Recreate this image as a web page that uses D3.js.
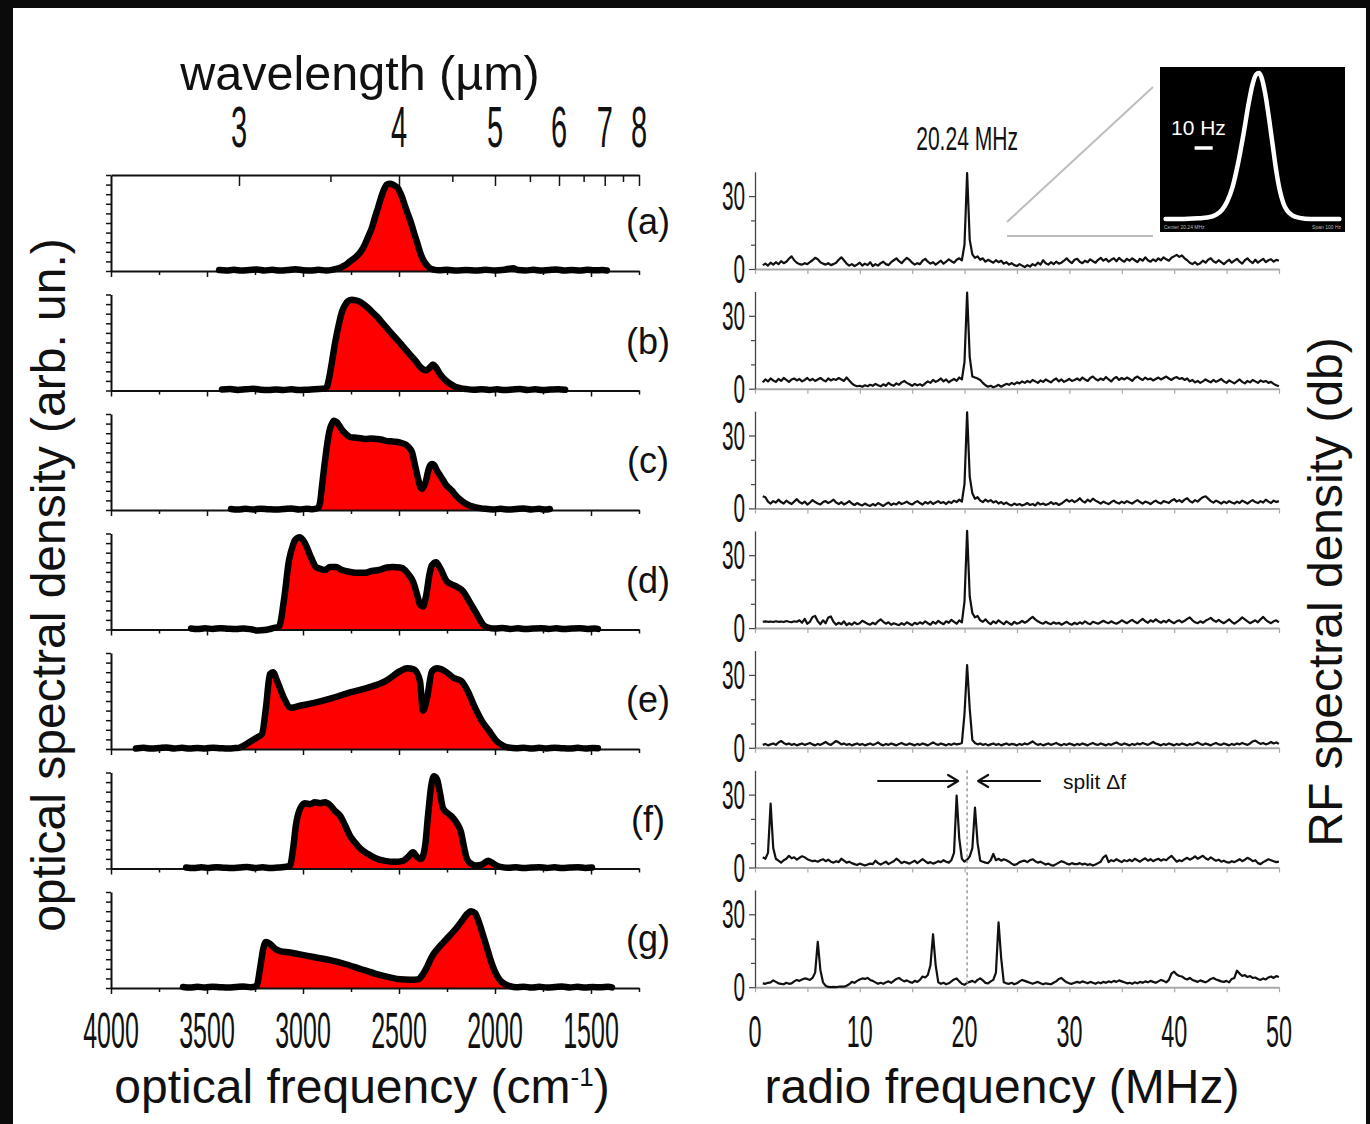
<!DOCTYPE html>
<html>
<head>
<meta charset="utf-8">
<script src="https://cdnjs.cloudflare.com/ajax/libs/d3/7.8.5/d3.min.js"></script>
<style>
  html, body { margin: 0; padding: 0; background: #fff; }
  svg { display: block; }
</style>
</head>
<body>
<svg id="chart" width="1370" height="1124"></svg>
<script>
// ---------------- data ----------------
// Optical spectra: [wavenumber (cm^-1), normalised spectral density]
const optA = [[3437,0.01],[3400,0.005],[3360,0.012],[3320,0.004],[3280,0.01],[3240,0.016],[3200,0.006],[3160,0.012],[3120,0.004],[3080,0.01],[3040,0.018],[3000,0.008],[2960,0.004],[2920,0.012],[2880,0.006],[2850,0.012],
  [2833,0.02],[2800,0.04],[2781,0.06],[2755,0.1],[2729,0.14],[2700,0.2],[2677,0.28],[2660,0.36],[2641,0.45],[2625,0.56],[2609,0.66],[2594,0.76],[2578,0.85],[2563,0.9],[2547,0.91],[2531,0.9],[2516,0.88],[2505,0.86],[2495,0.82],[2484,0.77],[2469,0.68],[2453,0.59],[2437,0.5],[2422,0.4],[2406,0.3],[2391,0.2],[2375,0.12],[2359,0.07],[2340,0.03],[2320,0.015],
  [2290,0.008],[2250,0.012],[2200,0.005],[2150,0.01],[2100,0.004],[2050,0.012],[2000,0.006],[1950,0.014],[1906,0.028],[1880,0.01],[1840,0.006],[1800,0.012],[1760,0.004],[1720,0.01],[1680,0.016],[1640,0.006],[1600,0.01],[1560,0.004],[1520,0.012],[1480,0.008],[1440,0.01],[1417,0.006]];

const optB = [[3422,0.01],[3380,0.015],[3340,0.006],[3300,0.012],[3260,0.018],[3220,0.008],[3180,0.004],[3140,0.01],[3100,0.006],[3060,0.012],[3020,0.004],[2980,0.008],[2940,0.014],[2900,0.018],[2885,0.02],
  [2875,0.04],[2862,0.15],[2849,0.3],[2836,0.46],[2823,0.6],[2810,0.72],[2797,0.82],[2781,0.89],[2766,0.93],[2745,0.945],[2729,0.94],[2710,0.93],[2693,0.91],[2667,0.87],[2641,0.82],[2615,0.77],[2589,0.71],[2563,0.65],[2537,0.59],[2510,0.53],[2484,0.47],[2458,0.41],[2432,0.35],[2406,0.29],[2391,0.25],[2375,0.22],[2359,0.21],[2339,0.24],[2323,0.27],[2307,0.24],[2286,0.17],[2260,0.11],[2234,0.07],[2208,0.04],[2182,0.025],[2150,0.015],
  [2110,0.008],[2070,0.014],[2030,0.006],[1990,0.012],[1950,0.004],[1910,0.01],[1870,0.016],[1830,0.006],[1790,0.012],[1750,0.004],[1710,0.01],[1670,0.014],[1635,0.008]];

const optC = [[3375,0.01],[3340,0.004],[3300,0.012],[3260,0.006],[3220,0.014],[3180,0.008],[3140,0.004],[3100,0.01],[3060,0.016],[3020,0.006],[2980,0.012],[2950,0.008],[2922,0.02],
  [2911,0.08],[2901,0.25],[2890,0.44],[2880,0.6],[2870,0.74],[2859,0.85],[2849,0.9],[2839,0.93],[2828,0.92],[2818,0.9],[2802,0.85],[2786,0.81],[2770,0.78],[2755,0.76],[2734,0.755],[2714,0.75],[2693,0.745],[2672,0.74],[2646,0.745],[2620,0.74],[2594,0.735],[2568,0.72],[2542,0.715],[2516,0.71],[2490,0.7],[2464,0.68],[2443,0.64],[2432,0.6],[2417,0.47],[2401,0.33],[2391,0.25],[2380,0.22],[2370,0.25],[2359,0.31],[2349,0.4],[2339,0.46],[2328,0.48],[2318,0.47],[2302,0.41],[2286,0.36],[2270,0.31],[2255,0.26],[2239,0.23],[2224,0.2],[2203,0.15],[2182,0.11],[2156,0.07],[2130,0.045],[2104,0.03],[2078,0.02],[2050,0.012],
  [2010,0.006],[1970,0.012],[1930,0.004],[1890,0.01],[1850,0.016],[1810,0.006],[1770,0.012],[1740,0.004],[1714,0.01]];

const optD = [[3583,0.01],[3550,0.004],[3510,0.012],[3470,0.006],[3430,0.014],[3390,0.008],[3350,0.004],[3310,0.01],[3270,0.002],[3234,-0.01],[3200,-0.006],[3175,0.004],[3156,0.015],
  [3125,0.03],[3099,0.31],[3073,0.72],[3052,0.88],[3042,0.93],[3016,0.96],[2990,0.9],[2958,0.75],[2932,0.65],[2906,0.63],[2885,0.62],[2859,0.65],[2828,0.65],[2797,0.62],[2755,0.6],[2714,0.59],[2682,0.59],[2641,0.61],[2604,0.62],[2563,0.645],[2531,0.65],[2495,0.645],[2469,0.62],[2453,0.58],[2427,0.5],[2401,0.33],[2391,0.26],[2375,0.24],[2359,0.35],[2339,0.6],[2328,0.67],[2307,0.7],[2286,0.64],[2250,0.5],[2203,0.45],[2167,0.4],[2130,0.28],[2089,0.14],[2062,0.05],[2036,0.02],
  [2000,0.01],[1960,0.016],[1920,0.006],[1880,0.012],[1840,0.004],[1800,0.01],[1760,0.014],[1720,0.006],[1680,0.012],[1640,0.004],[1600,0.01],[1560,0.014],[1520,0.006],[1480,0.01],[1464,0.006]];

const optE = [[3870,0.005],[3830,0.012],[3790,0.004],[3750,0.01],[3710,0.016],[3670,0.006],[3630,0.012],[3590,0.004],[3550,0.01],[3510,0.006],[3470,0.014],[3430,0.008],[3390,0.004],[3350,0.01],[3330,0.015],
  [3313,0.03],[3280,0.07],[3240,0.12],[3214,0.155],[3193,0.43],[3172,0.78],[3156,0.8],[3135,0.71],[3099,0.53],[3063,0.43],[3016,0.45],[2943,0.48],[2849,0.53],[2755,0.59],[2661,0.64],[2568,0.71],[2495,0.81],[2458,0.84],[2422,0.83],[2391,0.71],[2375,0.4],[2354,0.53],[2328,0.81],[2302,0.84],[2260,0.81],[2214,0.74],[2177,0.71],[2141,0.6],[2104,0.43],[2068,0.29],[2031,0.19],[1995,0.09],[1953,0.03],[1930,0.015],
  [1890,0.008],[1850,0.014],[1810,0.004],[1770,0.012],[1730,0.006],[1690,0.014],[1650,0.008],[1610,0.004],[1570,0.012],[1530,0.006],[1490,0.01],[1464,0.008]];

const optF = [[3609,0.01],[3570,0.004],[3530,0.012],[3490,0.006],[3450,0.014],[3410,0.008],[3370,0.004],[3330,0.01],[3290,0.016],[3250,0.006],[3210,0.012],[3170,0.004],[3130,0.01],[3100,0.015],
  [3068,0.03],[3052,0.2],[3037,0.45],[3016,0.62],[2990,0.68],[2964,0.67],[2938,0.69],[2911,0.68],[2885,0.69],[2859,0.66],[2833,0.6],[2807,0.55],[2781,0.45],[2755,0.34],[2729,0.27],[2703,0.21],[2661,0.15],[2625,0.11],[2573,0.08],[2521,0.07],[2479,0.08],[2453,0.12],[2427,0.17],[2406,0.12],[2385,0.1],[2365,0.22],[2349,0.55],[2333,0.85],[2318,0.96],[2302,0.93],[2286,0.78],[2271,0.63],[2250,0.58],[2224,0.54],[2198,0.47],[2177,0.38],[2161,0.22],[2146,0.1],[2125,0.05],[2099,0.03],[2068,0.04],[2036,0.08],[2016,0.06],[1990,0.03],[1964,0.015],
  [1930,0.008],[1890,0.012],[1850,0.004],[1810,0.01],[1770,0.014],[1730,0.006],[1690,0.012],[1650,0.004],[1610,0.01],[1570,0.014],[1530,0.006],[1495,0.01]];

const optG = [[3625,0.01],[3590,0.004],[3550,0.012],[3510,0.006],[3470,0.014],[3430,0.008],[3390,0.004],[3350,0.01],[3310,0.016],[3270,0.008],[3250,0.015],
  [3240,0.03],[3224,0.2],[3208,0.4],[3193,0.48],[3172,0.46],[3146,0.41],[3120,0.385],[3068,0.37],[3016,0.35],[2938,0.32],[2859,0.29],[2781,0.25],[2703,0.2],[2625,0.15],[2547,0.11],[2495,0.09],[2443,0.085],[2401,0.09],[2380,0.13],[2354,0.22],[2328,0.33],[2302,0.4],[2271,0.47],[2234,0.55],[2203,0.62],[2172,0.7],[2146,0.77],[2125,0.8],[2104,0.78],[2083,0.68],[2062,0.55],[2042,0.42],[2021,0.28],[2000,0.17],[1974,0.08],[1948,0.04],[1922,0.02],
  [1890,0.008],[1850,0.014],[1810,0.004],[1770,0.012],[1730,0.006],[1690,0.01],[1650,0.016],[1610,0.006],[1570,0.012],[1530,0.004],[1490,0.01],[1450,0.008],[1410,0.012],[1391,0.006]];

const panelLabels = ['(a)', '(b)', '(c)', '(d)', '(e)', '(f)', '(g)'];

// RF spectra (dB), analyser sweep starting at RF_START MHz in RF_STEP MHz bins
const RF_START = 0.74;
const RF_STEP = 0.25;
const rfA = [1.6,2.2,1.4,2.6,1.8,2.8,2.0,3.2,2.4,3.0,4.2,5.2,3.6,2.6,2.0,1.8,2.4,2.0,2.8,3.6,
  4.6,4.0,2.8,2.2,1.8,2.4,1.6,2.0,2.6,3.8,4.8,3.6,2.2,1.4,2.0,1.2,1.8,2.6,1.4,2.2,
  1.6,2.8,1.2,2.0,1.4,2.4,3.0,2.0,1.6,2.8,3.6,4.4,3.2,2.4,3.6,4.6,3.8,2.6,1.8,2.4,
  2.0,3.4,4.2,3.0,2.2,2.8,1.8,2.6,3.4,2.2,3.0,4.0,3.2,2.6,3.8,4.4,3.6,10,39.5,12,
  6.0,4.6,5.2,3.8,4.4,3.0,3.8,3.2,2.6,3.6,2.8,3.4,2.2,2.8,1.8,2.4,1.6,1.2,2.0,1.4,
  0.8,1.6,1.0,2.0,1.4,2.6,1.8,3.6,2.4,1.8,2.8,2.0,3.0,2.2,2.6,3.4,4.4,3.2,2.4,3.8,
  4.2,3.0,2.4,3.4,2.8,4.0,3.2,2.6,3.8,4.6,3.4,4.2,3.0,3.8,4.4,3.2,4.6,3.6,3.0,4.2,
  3.4,4.4,3.6,2.8,4.2,3.4,4.8,3.6,3.0,4.0,3.2,4.4,3.6,4.8,4.0,3.4,4.6,5.2,5.8,5.0,
  5.6,4.4,3.6,2.6,2.0,2.8,1.8,2.4,3.4,2.6,3.8,4.4,3.2,2.6,3.6,2.8,2.0,3.0,3.8,2.6,
  3.4,4.2,3.0,2.2,3.6,4.4,3.2,2.4,3.8,2.6,3.4,4.2,2.8,3.6,4.0,3.0,3.8,3.4];
const rfB = [2.6,3.8,3.0,4.2,3.4,2.8,4.0,3.2,4.4,3.6,2.8,3.8,4.2,3.4,4.0,3.0,3.6,4.4,3.4,4.0,
  3.2,3.8,4.4,3.6,3.0,4.2,3.4,4.0,3.6,4.4,3.8,3.2,4.6,3.4,2.2,1.4,1.0,1.2,0.8,1.4,
  1.0,1.6,1.2,2.0,1.4,1.0,1.8,1.2,2.4,1.6,1.2,2.2,1.6,2.6,3.2,2.4,1.8,1.2,2.0,1.4,
  1.8,1.2,2.2,3.0,2.4,3.6,2.8,3.4,4.2,3.0,3.8,2.6,3.4,4.0,3.2,4.6,3.8,11,39.5,13,
  5.0,4.6,4.2,3.6,2.4,1.4,0.8,1.2,0.6,1.0,1.6,0.8,1.4,2.0,1.6,2.4,1.8,2.6,2.2,3.0,
  2.4,3.2,2.6,3.6,3.0,2.4,3.4,2.8,3.8,3.2,2.6,3.6,4.2,3.0,3.8,2.8,3.4,4.0,3.2,3.6,
  4.2,3.4,4.6,3.8,3.2,4.4,5.0,4.0,3.4,4.2,3.6,4.8,3.8,3.0,4.2,4.8,3.6,4.4,3.8,4.6,
  4.0,3.2,4.4,5.0,4.2,3.6,4.6,3.8,4.2,3.4,4.0,4.6,3.8,4.4,5.0,4.2,3.6,4.4,4.8,4.0,
  4.4,3.6,4.2,3.0,3.6,2.6,3.2,2.4,3.0,3.8,3.2,2.6,3.6,2.8,3.4,4.0,3.0,2.4,3.4,2.8,
  2.2,3.0,3.8,2.8,2.2,3.2,2.6,3.6,3.0,2.4,3.4,2.8,3.2,2.4,2.8,2.0,1.4,1.0];
const rfC = [5.0,4.6,2.8,2.0,3.0,2.4,3.6,2.6,2.0,3.2,2.4,1.8,2.8,3.8,2.6,2.0,2.8,1.6,2.4,3.4,
  2.6,2.0,1.6,2.6,3.0,2.2,2.8,3.6,2.4,1.8,2.6,1.6,2.2,3.0,2.0,1.4,2.2,1.6,1.2,2.0,
  1.4,1.0,1.8,1.2,2.2,1.6,1.0,1.8,2.4,1.4,2.0,1.6,2.6,1.8,2.2,2.8,2.0,1.6,2.4,3.0,
  2.2,1.6,2.6,2.0,2.8,1.8,2.4,3.0,2.2,2.6,1.8,2.8,2.2,3.2,2.6,3.6,2.8,10,39.5,13,
  6.2,4.0,4.6,3.2,2.6,3.6,2.8,3.4,2.4,3.0,2.0,2.6,1.8,2.4,1.6,1.2,2.0,1.4,1.8,1.2,
  1.6,2.2,1.4,1.8,1.2,2.4,1.6,2.0,1.4,1.8,2.6,1.8,2.2,1.4,2.0,2.8,3.6,2.8,3.4,2.6,
  3.2,4.2,3.0,2.4,3.6,2.8,4.0,3.2,2.6,2.0,2.8,2.2,1.8,2.6,3.2,2.4,2.0,2.8,2.2,3.0,
  2.4,2.0,2.8,3.4,2.6,2.0,2.8,2.4,1.8,2.6,3.2,2.4,2.0,3.0,2.6,2.2,3.2,3.8,2.8,3.4,
  2.6,3.6,4.2,3.0,2.4,3.4,2.8,3.8,4.6,5.0,4.0,3.0,2.4,3.2,2.6,2.0,2.8,2.2,3.0,2.4,
  2.0,2.8,2.2,3.2,2.6,2.0,2.8,3.4,2.6,2.2,3.0,2.4,3.6,2.8,2.2,3.2,2.6,3.0];
const rfD = [2.6,2.8,2.6,2.7,2.5,2.8,2.6,2.7,2.5,2.9,2.6,2.4,2.8,2.6,3.2,2.2,3.8,1.8,2.6,4.6,
  5.0,2.8,1.6,3.2,2.0,4.4,4.8,2.6,1.4,2.2,1.6,2.8,1.2,2.0,1.4,2.4,1.6,2.0,3.0,2.4,
  1.8,1.4,2.2,1.6,2.8,3.6,2.6,1.8,2.4,1.4,2.0,1.6,1.2,2.0,1.4,2.4,1.8,1.2,2.2,1.6,
  2.4,1.8,2.8,2.0,1.4,2.6,1.8,3.0,2.2,1.6,2.8,2.2,3.4,2.6,1.8,3.2,2.4,11,40,13,
  6.2,4.4,5.0,3.2,2.6,3.6,2.4,1.6,2.8,2.0,3.2,2.4,1.6,2.8,2.0,1.4,2.6,1.8,2.2,3.0,
  2.2,2.8,3.8,4.6,3.6,2.8,2.2,1.8,2.6,2.0,1.6,2.4,1.8,2.2,1.4,2.0,2.6,1.8,1.4,2.2,
  1.6,2.4,1.8,2.8,2.0,1.6,2.6,2.2,1.8,2.4,3.0,2.4,2.0,2.8,2.2,1.8,2.4,3.2,2.6,2.0,
  2.8,3.4,2.6,2.0,3.0,3.8,2.8,2.2,3.2,2.6,3.6,2.8,2.2,3.0,2.4,3.4,2.6,2.0,2.8,3.2,
  2.4,3.0,3.8,4.4,3.2,2.4,2.0,2.8,2.2,3.0,3.6,4.2,3.2,2.6,3.4,2.6,2.0,2.8,3.6,2.6,
  1.8,2.6,3.4,4.4,3.6,2.8,2.0,2.6,3.2,2.4,3.6,4.6,3.4,2.6,2.0,2.8,3.2,2.4];
const rfE = [1.2,1.6,1.0,1.4,1.8,1.2,2.2,2.8,2.0,1.4,1.8,1.2,1.6,1.0,1.4,1.8,1.2,1.6,2.0,1.4,
  1.0,1.6,1.2,1.8,2.4,1.6,1.2,2.0,2.8,2.2,1.4,1.8,1.2,1.6,1.0,1.4,1.8,1.2,1.6,1.0,
  1.4,1.8,1.2,1.6,2.2,1.4,1.0,1.6,1.2,1.8,1.4,1.0,1.6,2.0,1.4,1.2,1.8,1.4,1.0,1.6,
  1.2,1.8,1.4,1.0,1.6,2.2,1.6,1.2,1.8,1.4,1.0,1.6,1.2,1.8,1.4,1.6,2.0,14,34,16,
  3.2,2.0,1.4,1.8,1.2,1.6,1.0,1.4,1.8,1.2,1.6,1.0,1.4,1.8,1.2,1.6,1.4,1.0,1.6,1.2,
  1.8,1.4,2.0,2.6,1.8,1.2,1.6,1.0,1.4,1.8,1.2,1.6,2.0,1.4,1.0,1.6,1.2,1.8,1.4,1.0,
  1.6,1.2,1.8,1.4,1.0,1.6,2.0,1.4,1.2,1.8,1.4,1.0,1.6,1.2,1.8,2.2,1.6,1.2,1.8,1.4,
  1.0,1.6,1.2,1.8,1.4,2.0,1.6,1.2,1.8,2.4,1.8,1.4,1.0,1.6,1.2,1.8,1.4,1.0,1.6,1.2,
  1.8,1.4,1.0,1.6,1.2,1.8,2.2,1.6,1.2,1.8,1.4,1.0,1.6,2.0,1.4,1.2,1.8,1.4,1.0,1.6,
  1.2,1.8,1.4,2.0,1.6,1.2,1.8,2.6,3.0,2.2,1.6,2.0,1.4,1.8,2.4,1.8,2.2,1.6];
const rfF = [4.2,3.6,6.0,26.3,8.0,3.6,2.8,2.0,3.0,3.6,4.8,3.8,4.2,3.2,4.0,4.6,4.2,3.4,3.0,2.6,
  2.8,2.4,3.0,3.4,2.6,3.2,2.4,2.0,2.6,2.2,3.6,2.8,2.0,2.4,1.8,1.4,1.0,1.6,1.2,0.8,
  1.2,1.6,1.4,2.8,1.8,1.2,1.8,2.4,1.4,2.0,2.6,3.6,2.8,1.8,2.4,2.0,1.6,2.2,2.8,1.8,
  2.6,3.4,2.6,1.8,2.2,1.6,2.0,2.6,2.2,3.0,2.4,2.0,3.0,6.0,29.6,12,3.6,2.4,3.2,4.6,
  8.0,24.7,10,2.8,2.4,2.0,1.8,3.0,5.6,3.0,3.6,2.8,3.4,3.0,2.4,1.6,1.0,1.4,2.2,2.6,
  2.8,2.2,3.0,3.4,2.6,2.0,2.4,1.8,1.2,1.6,1.0,0.8,1.4,2.0,2.6,2.2,1.6,1.2,1.8,1.4,
  1.4,1.8,1.2,1.6,1.0,1.4,0.8,1.2,1.8,2.4,4.2,5.0,2.2,3.0,2.6,3.4,2.8,2.2,3.0,2.6,
  3.2,2.6,3.6,3.0,2.4,3.2,3.8,2.8,3.4,2.6,3.2,3.6,2.8,3.4,3.0,4.0,4.8,3.6,2.4,3.0,
  2.6,3.4,4.0,3.2,3.8,4.6,3.6,4.2,4.8,3.8,3.2,4.2,3.4,2.8,3.2,2.4,2.8,2.2,2.0,2.6,
  2.2,2.8,3.4,2.6,3.2,4.0,3.4,2.6,3.0,1.8,1.4,2.2,2.8,3.4,3.0,2.6,2.2,2.4];
const rfG = [1.6,1.4,1.8,2.0,2.8,2.2,1.6,1.4,1.2,1.8,1.4,1.6,2.4,3.0,2.6,3.2,3.6,3.4,3.0,3.8,
  6.0,18.7,7.0,2.0,0.6,0.1,0.0,0.1,0.0,0.2,0.3,0.2,0.6,1.2,2.2,1.8,2.6,3.2,3.6,3.4,
  3.8,3.0,2.6,2.0,1.4,1.8,1.4,2.0,2.4,1.8,2.6,3.4,3.8,3.0,2.4,2.8,2.2,1.8,2.6,2.2,
  3.0,4.4,4.0,5.0,9.0,21.8,9.0,2.0,1.4,1.8,1.2,1.6,2.4,3.2,3.6,2.4,1.4,1.0,1.8,2.2,
  2.6,2.0,3.0,3.6,2.8,1.8,1.6,2.4,3.0,6.0,26.7,12,2.0,1.6,1.4,1.8,1.2,1.6,2.4,3.0,
  2.6,2.2,1.8,1.4,1.8,2.2,1.6,1.2,1.6,1.4,1.2,1.8,2.4,3.4,3.8,2.8,2.0,1.6,1.4,1.8,
  2.2,1.8,2.4,2.0,1.6,2.2,1.8,1.4,2.0,1.6,2.2,1.8,2.4,2.0,2.6,2.2,2.8,2.4,2.0,1.6,
  1.8,1.4,2.0,1.6,2.2,1.8,2.4,2.0,2.6,2.2,1.8,2.4,3.0,2.6,2.0,3.0,5.6,6.4,5.2,4.6,
  4.4,3.6,3.2,3.8,3.0,2.6,2.2,2.8,2.4,2.0,2.6,3.4,3.8,3.2,2.8,2.4,2.2,2.6,2.0,3.4,
  3.8,6.8,5.6,4.6,5.0,4.2,4.6,3.8,4.0,3.4,3.0,3.6,3.2,4.0,4.4,3.8,4.6,4.2];

// Beat-note zoom: [offset from 20.24 MHz (Hz), normalised level]
const beatNote = [[-48,0.0],[-40,0.0],[-30,0.005],[-25,0.01],[-20,0.03],[-17,0.06],[-14,0.12],[-11,0.22],[-8,0.38],[-5,0.58],[-2,0.8],[0,0.92],[2,0.99],[3.5,1.0],[5,0.97],[7,0.86],[9,0.7],[11,0.52],[13,0.34],[15,0.2],[17,0.11],[19,0.06],[22,0.025],[26,0.008],[32,0.0],[48,0.0]];

// Axis ticks
const optTicks = [4000,3750,3500,3250,3000,2750,2500,2250,2000,1750,1500,1250];
const optTickLabels = [4000,3500,3000,2500,2000,1500];
const wlTicks = [3,3.5,4,4.5,5,5.5,6,6.5,7,7.5,8];
const wlLabels = [3,4,5,6,7,8];
const optYTicks = [0,0.1,0.2,0.3,0.4,0.5,0.6,0.7,0.8,0.9,1.0];
const rfXTicks = [0,5,10,15,20,25,30,35,40,45,50];
const rfXLabels = [0,10,20,30,40,50];
const rfYTicks = [0,10,20,30];
const rfYLabels = [0,30];
const beatFreq = 20.24;

const opticalSpectra = [optA, optB, optC, optD, optE, optF, optG];
const rfSpectra = [rfA, rfB, rfC, rfD, rfE, rfF, rfG];

// ---------------- layout ----------------
const FONT = '"Liberation Sans", Arial, Helvetica, sans-serif';
const svg = d3.select('#chart');

// dark frame around the figure
svg.append('rect').attr('width', 1370).attr('height', 1124).attr('fill', '#0b0b0b');
svg.append('rect').attr('x', 13).attr('y', 8).attr('width', 1353).attr('height', 1116).attr('fill', '#fff');

const xOpt = d3.scaleLinear().domain([4000, 1250]).range([111, 639]);
const xRF = d3.scaleLinear().domain([0, 50]).range([755, 1279]);
const optH = 96;
const rfH = 97.2;
const optBase = i => 271 + 119.5 * i;
const rfBase = i => 269 + 119.7 * i;
const yOpt = d3.scaleLinear().domain([0, 1]).range([optH, 0]);
const yRF = d3.scaleLinear().domain([0, 40]).range([rfH, 0]);

function narrow(g, x, y, txt, size, sx, anchor) {
  return g.append('text')
    .attr('transform', `translate(${x},${y}) scale(${sx},1)`)
    .attr('text-anchor', anchor || 'middle')
    .attr('font-family', FONT)
    .attr('font-size', size)
    .attr('fill', '#111')
    .text(txt);
}

// ---------------- optical panels ----------------
const optArea = d3.area()
  .x(d => xOpt(d[0]))
  .y0(yOpt(0))
  .y1(d => yOpt(Math.max(0, d[1])))
  .curve(d3.curveMonotoneX);
const optLine = d3.line()
  .x(d => xOpt(d[0]))
  .y(d => yOpt(d[1]))
  .curve(d3.curveMonotoneX);

opticalSpectra.forEach((spec, i) => {
  const g = svg.append('g').attr('transform', `translate(0,${optBase(i) - optH})`);

  g.append('path').datum(spec).attr('d', optArea).attr('fill', '#ff0000');

  const bx = g.append('g').attr('transform', `translate(0,${optH})`)
    .call(d3.axisBottom(xOpt).tickValues(optTicks).tickSize(6).tickSizeOuter(0).tickFormat(''));
  bx.select('.domain').attr('stroke', '#111').attr('stroke-width', 2);
  bx.selectAll('.tick line').attr('stroke', '#111').attr('stroke-width', 1.5)
    .attr('y2', d => (d % 500 === 0 ? 6 : 4));

  const ly = g.append('g').attr('transform', `translate(${xOpt(4000)},0)`)
    .call(d3.axisLeft(yOpt).tickValues(optYTicks).tickSize(5).tickSizeOuter(0).tickFormat(''));
  ly.select('.domain').attr('stroke', '#111').attr('stroke-width', 2);
  ly.selectAll('.tick line').attr('stroke', '#111').attr('stroke-width', 1.5);

  g.append('path').datum(spec).attr('d', optLine)
    .attr('fill', 'none').attr('stroke', '#000').attr('stroke-width', 6.5)
    .attr('stroke-linejoin', 'round').attr('stroke-linecap', 'round');

  g.append('text')
    .attr('x', 648).attr('y', optH - 37)
    .attr('text-anchor', 'middle')
    .attr('font-family', FONT).attr('font-size', 36).attr('fill', '#111')
    .text(panelLabels[i]);

  if (i === 0) {
    // wavelength axis along the top edge
    const tx = g.append('g')
      .call(d3.axisBottom(xOpt).tickValues(wlTicks.map(l => 1e4 / l)).tickSize(11).tickSizeOuter(0).tickFormat(''));
    tx.select('.domain').attr('stroke', '#111').attr('stroke-width', 2);
    tx.selectAll('.tick line').attr('stroke', '#111').attr('stroke-width', 1.5)
      .attr('y2', (d, k) => (Number.isInteger(wlTicks[k]) ? 11 : 7));
    wlLabels.forEach(l => narrow(g, xOpt(1e4 / l), -28, String(l), 58, 0.5));
  }
  if (i === opticalSpectra.length - 1) {
    optTickLabels.forEach(v => narrow(g, xOpt(v), optH + 60, String(v), 50, 0.5));
  }
});

// ---------------- RF panels ----------------
const rfLine = d3.line()
  .x((d, k) => xRF(RF_START + RF_STEP * k))
  .y(d => yRF(d));

rfSpectra.forEach((spec, i) => {
  const g = svg.append('g').attr('transform', `translate(0,${rfBase(i) - rfH})`);

  const bx = g.append('g').attr('transform', `translate(0,${rfH})`)
    .call(d3.axisBottom(xRF).tickValues(rfXTicks).tickSize(5).tickSizeOuter(0).tickFormat(''));
  bx.select('.domain').attr('stroke', '#a8a8a8').attr('stroke-width', 2);
  bx.selectAll('.tick line').attr('stroke', '#a8a8a8').attr('stroke-width', 1.2);

  const ly = g.append('g').attr('transform', `translate(${xRF(0)},0)`)
    .call(d3.axisLeft(yRF).tickValues(rfYTicks).tickSize(5).tickSizeOuter(0).tickFormat(''));
  ly.select('.domain').attr('stroke', '#444').attr('stroke-width', 1.3);
  ly.selectAll('.tick line').attr('stroke', '#444').attr('stroke-width', 1.2)
    .attr('x2', d => (d % 30 === 0 ? -6 : -4));

  rfYLabels.forEach(v => narrow(g, 745, yRF(v) + 14, String(v), 40, 0.52, 'end'));

  g.append('path').datum(spec).attr('d', rfLine)
    .attr('fill', 'none').attr('stroke', '#111').attr('stroke-width', 2.2)
    .attr('stroke-linejoin', 'round');

  if (i === rfSpectra.length - 1) {
    rfXLabels.forEach(v => narrow(g, xRF(v), rfH + 60, String(v), 45, 0.52));
  }
});

// reference line at the unsplit beat frequency
const xBeat = xRF(beatFreq);
svg.append('line')
  .attr('x1', xBeat).attr('x2', xBeat)
  .attr('y1', rfBase(5) - rfH).attr('y2', rfBase(6))
  .attr('stroke', '#9a9a9a').attr('stroke-width', 1.5).attr('stroke-dasharray', '3,3');

// split arrows
const arrowY = 781;
const arrows = svg.append('g').attr('stroke', '#111').attr('stroke-width', 2.2).attr('fill', 'none')
  .attr('stroke-linecap', 'round').attr('stroke-linejoin', 'round');
arrows.append('line').attr('x1', xBeat - 89).attr('x2', xBeat - 10).attr('y1', arrowY).attr('y2', arrowY);
arrows.append('path').attr('d', `M${xBeat - 19},${arrowY - 6}L${xBeat - 9},${arrowY}L${xBeat - 19},${arrowY + 6}`);
arrows.append('line').attr('x1', xBeat + 73).attr('x2', xBeat + 12).attr('y1', arrowY).attr('y2', arrowY);
arrows.append('path').attr('d', `M${xBeat + 21},${arrowY - 6}L${xBeat + 11},${arrowY}L${xBeat + 21},${arrowY + 6}`);
svg.append('text').attr('x', 1063).attr('y', arrowY + 8)
  .attr('font-family', FONT).attr('font-size', 21).attr('fill', '#111')
  .text('split \u0394f');

// beat frequency label
narrow(svg, xBeat, 150, '20.24 MHz', 34, 0.62);

// ---------------- beat-note inset ----------------
const inset = svg.append('g');
inset.append('line').attr('x1', 1007).attr('y1', 222).attr('x2', 1153).attr('y2', 87)
  .attr('stroke', '#bdbdbd').attr('stroke-width', 2);
inset.append('line').attr('x1', 1007).attr('y1', 236).attr('x2', 1153).attr('y2', 236)
  .attr('stroke', '#bdbdbd').attr('stroke-width', 2);
inset.append('rect').attr('x', 1160).attr('y', 67).attr('width', 185).attr('height', 165).attr('fill', '#000');

const xIn = d3.scaleLinear().domain([-50, 50]).range([1162, 1343]);
const yIn = d3.scaleLinear().domain([0, 1]).range([219, 73]);
inset.append('path').datum(beatNote)
  .attr('d', d3.line().x(d => xIn(d[0])).y(d => yIn(d[1])).curve(d3.curveMonotoneX))
  .attr('fill', 'none').attr('stroke', '#fff').attr('stroke-width', 4.5).attr('stroke-linecap', 'round');
inset.append('text').attr('x', 1171).attr('y', 135)
  .attr('font-family', FONT).attr('font-size', 21).attr('fill', '#fff').text('10 Hz');
inset.append('line').attr('x1', xIn(-32)).attr('x2', xIn(-22)).attr('y1', 148).attr('y2', 148)
  .attr('stroke', '#fff').attr('stroke-width', 3.5);
inset.append('text').attr('x', 1164).attr('y', 229)
  .attr('font-family', FONT).attr('font-size', 5).attr('fill', '#bbb').text('Center 20.24 MHz');
inset.append('text').attr('x', 1341).attr('y', 229).attr('text-anchor', 'end')
  .attr('font-family', FONT).attr('font-size', 5).attr('fill', '#bbb').text('Span 100 Hz');

// ---------------- axis titles ----------------
svg.append('text').attr('x', 360).attr('y', 90).attr('text-anchor', 'middle')
  .attr('font-family', FONT).attr('font-size', 48.5).attr('fill', '#111').text('wavelength (\u00b5m)');

const ofTitle = svg.append('text').attr('x', 362).attr('y', 1103).attr('text-anchor', 'middle')
  .attr('font-family', FONT).attr('font-size', 48).attr('fill', '#111');
ofTitle.append('tspan').text('optical frequency (cm');
ofTitle.append('tspan').attr('font-size', 26).attr('dy', -17).text('-1');
ofTitle.append('tspan').attr('dy', 17).text(')');

svg.append('text').attr('x', 1002).attr('y', 1103).attr('text-anchor', 'middle')
  .attr('font-family', FONT).attr('font-size', 48).attr('fill', '#111').text('radio frequency (MHz)');

svg.append('text').attr('transform', 'translate(65,585) rotate(-90)').attr('text-anchor', 'middle')
  .attr('font-family', FONT).attr('font-size', 48).attr('fill', '#111')
  .text('optical spectral density (arb. un.)');

svg.append('text').attr('transform', 'translate(1342,592) rotate(-90)').attr('text-anchor', 'middle')
  .attr('font-family', FONT).attr('font-size', 48).attr('fill', '#111')
  .text('RF spectral density (db)');
</script>
</body>
</html>
